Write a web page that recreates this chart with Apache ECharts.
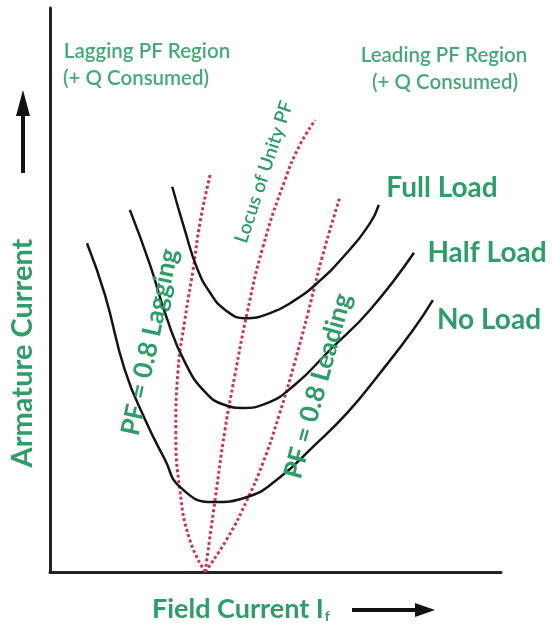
<!DOCTYPE html>
<html>
<head>
<meta charset="utf-8">
<script src="https://cdn.jsdelivr.net/npm/echarts@6/dist/echarts.min.js"></script>
<style>
  html, body { margin: 0; padding: 0; background: #ffffff; }
  #chart { width: 552px; height: 626px; }
</style>
</head>
<body>
<div id="chart"></div>
<script>
// V curves of a synchronous motor: [field current, armature current]
var noLoad = [[0.82,5.83],[1.22,4.91],[1.66,3.58],[2.11,2.70],[2.55,1.99],[2.88,1.51],[3.61,1.24],[4.37,1.33],[5.10,1.68],[5.83,2.22],[6.59,2.82],[7.32,3.53],[8.05,4.29],[8.49,4.82]];
var halfLoad = [[1.77,6.42],[2.22,5.44],[2.59,4.50],[2.99,3.72],[3.44,3.19],[3.88,2.96],[4.28,2.91],[4.77,2.98],[5.43,3.32],[6.21,3.94],[7.10,4.65],[8.07,5.66]];
var fullLoad = [[2.71,6.83],[2.99,6.06],[3.26,5.39],[3.55,4.95],[3.88,4.65],[4.32,4.50],[4.88,4.59],[5.43,4.82],[5.92,5.12],[6.54,5.62],[7.10,6.19],[7.29,6.51]];

// power factor loci
var pfLagging = [[3.44,0],[3.10,0.57],[2.88,1.45],[2.79,2.52],[2.84,3.58],[2.99,4.47],[3.17,5.35],[3.33,6.21],[3.55,7.04]];
var pfUnity = [[3.44,0],[3.66,1.28],[3.88,2.52],[4.10,3.49],[4.37,4.59],[4.72,5.76],[5.21,6.95],[5.54,7.57],[5.88,8.01]];
var pfLeading = [[3.44,0],[3.95,0.62],[4.37,1.28],[4.72,1.93],[5.08,2.78],[5.41,3.67],[5.72,4.59],[6.03,5.57],[6.43,6.65]];

var green = '#2e9d68';
var font = 'Lato, "Liberation Sans", sans-serif';

var chart = echarts.init(document.getElementById('chart'));

function curve(name, data) {
  return {
    name: name, type: 'line', data: data, smooth: true, symbol: 'none', z: 3,
    lineStyle: { color: '#151515', width: 2.5 }
  };
}
function locus(name, data) {
  return {
    name: name, type: 'line', data: data, smooth: true, symbol: 'none', z: 2,
    lineStyle: { color: '#c93a52', width: 3, type: [3, 2.5] }
  };
}
function label(text, x, y, size, rot, weight, color) {
  return {
    type: 'text', x: x, y: y, rotation: rot || 0, z: 10,
    style: {
      text: text, fill: color || green, font: (weight || 'bold') + ' ' + size + 'px ' + font,
      textAlign: 'center', textVerticalAlign: 'middle'
    }
  };
}

// width of the x axis title, so the subscript sits right after it
var ctx = document.createElement('canvas').getContext('2d');
ctx.font = 'bold 27px ' + font;
var xTitleW = ctx.measureText('Field Current I').width;

chart.setOption({
  animation: false,
  backgroundColor: '#ffffff',
  grid: { left: 50, right: 51, top: 8, bottom: 54 },
  xAxis: {
    type: 'value', min: 0, max: 10,
    axisLine: { show: true, onZero: false, lineStyle: { color: '#222', width: 3 } },
    axisTick: { show: false }, axisLabel: { show: false }, splitLine: { show: false }
  },
  yAxis: {
    type: 'value', min: 0, max: 10,
    axisLine: { show: true, onZero: false, lineStyle: { color: '#222', width: 3 } },
    axisTick: { show: false }, axisLabel: { show: false }, splitLine: { show: false }
  },
  series: [
    locus('PF = 0.8 Lagging', pfLagging),
    locus('Locus of Unity PF', pfUnity),
    locus('PF = 0.8 Leading', pfLeading),
    curve('No Load', noLoad),
    curve('Half Load', halfLoad),
    curve('Full Load', fullLoad)
  ],
  graphic: [
    label('Lagging PF Region', 147, 51, 20.5, 0, '600', '#45aa78'),
    label('(+ Q Consumed)', 136, 78, 20.5, 0, '600', '#45aa78'),
    label('Leading PF Region', 444, 55, 20.5, 0, '600', '#45aa78'),
    label('(+ Q Consumed)', 445, 82, 20.5, 0, '600', '#45aa78'),
    label('Full Load', 442, 188, 28),
    label('Half Load', 487, 253, 28),
    label('No Load', 489, 320, 28),
    label('Locus of Unity PF', 264, 172, 19, 1.252, '600'),
    label('PF = 0.8 Lagging', 150, 342, 26, 1.36),
    label('PF = 0.8 Leading', 318, 386, 26, 1.30),
    label('Armature Current', 23, 353, 29, Math.PI / 2),
    {
      type: 'text', x: 152, y: 609, z: 10,
      style: { text: 'Field Current I', fill: green, font: 'bold 27px ' + font, textAlign: 'left', textVerticalAlign: 'middle' }
    },
    {
      type: 'text', x: 152 + xTitleW + 1, y: 616, z: 10,
      style: { text: 'f', fill: green, font: 'bold 14px ' + font, textAlign: 'left', textVerticalAlign: 'middle' }
    },
    // axis arrows
    { type: 'line', shape: { x1: 23, y1: 173, x2: 23, y2: 112 }, style: { stroke: '#111', lineWidth: 4 } },
    { type: 'polygon', shape: { points: [[23, 90], [16, 116], [30, 116]] }, style: { fill: '#111' } },
    { type: 'line', shape: { x1: 352, y1: 610, x2: 420, y2: 610 }, style: { stroke: '#111', lineWidth: 4 } },
    { type: 'polygon', shape: { points: [[435, 610], [415, 603], [415, 617]] }, style: { fill: '#111' } }
  ]
});
</script>
</body>
</html>
